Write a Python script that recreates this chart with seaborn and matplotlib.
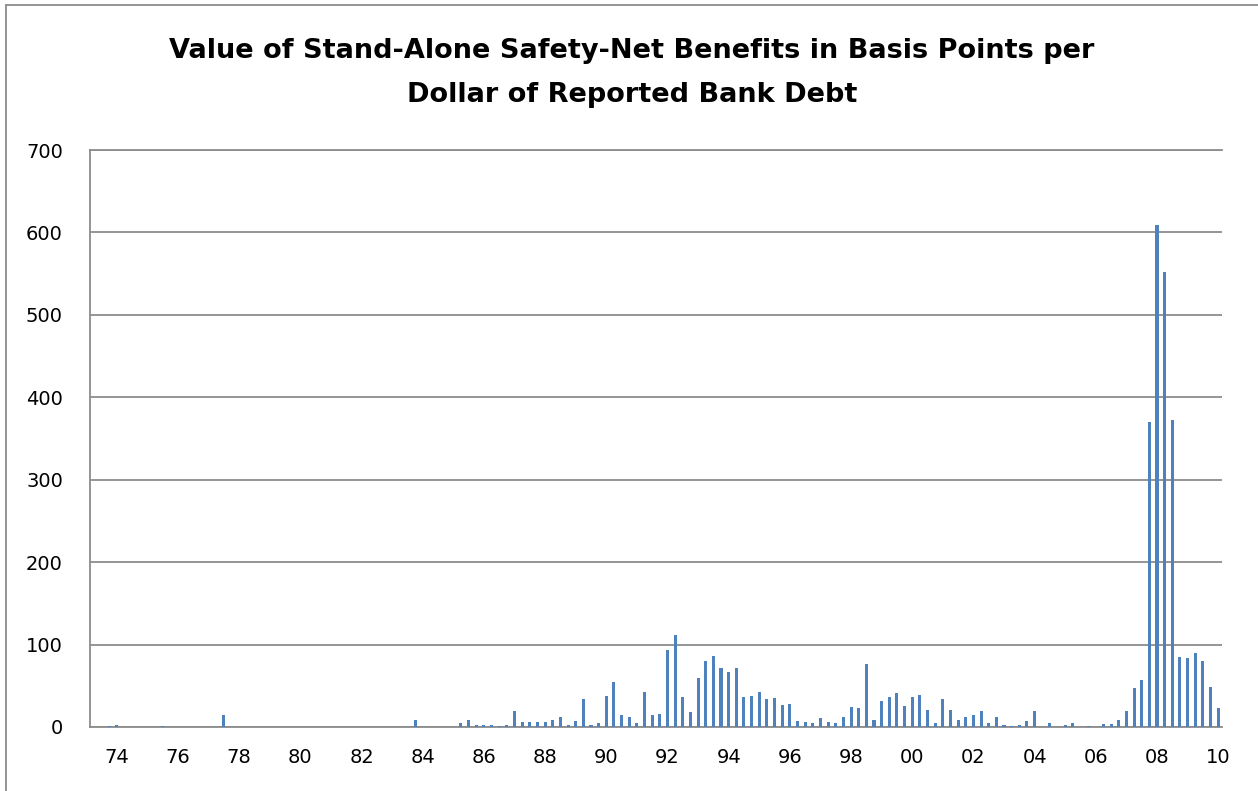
import matplotlib
matplotlib.use("Agg")
import matplotlib.pyplot as plt
from matplotlib.lines import Line2D
import pandas as pd
import seaborn as sns

# quarterly categories 1974Q1 .. 2010Q4
quarters = [f"{y}Q{q}" for y in range(1974, 2011) for q in range(1, 5)]

# basis points per dollar of reported bank debt
bp_1974_1985 = [0, 0, 1, 2.5, 0.5, 0, 0, 0, 0, 0.7, 0, 0,
                0, 0, 0, 0, 0, 14, 0, 0.3, 0, 0, 0, 0,
                0, 0, 0, 0.3, 0, 0, 0, 0, 0, 0, 0, 0,
                0, 0, 0, 0, 0, 0, 8, 0, 0, 0, 0, 0]
bp_1986_1997 = [5, 8, 2, 2, 3, 1, 2, 19, 6, 6, 6, 6,
                9, 12, 2, 7, 34, 3, 5, 38, 55, 15, 12, 5,
                42, 14, 16, 94, 112, 36, 18, 60, 80, 86, 72, 67,
                71, 36, 38, 43, 34, 35, 27, 28, 7, 6, 5, 11]
bp_1998_2010 = [6, 5, 12, 24, 23, 76, 9, 31, 36, 41, 26, 37,
                39, 21, 5, 34, 21, 9, 12, 14, 19, 5, 12, 2,
                1, 2, 7, 19, 0.5, 5, 0.3, 3, 5, 0, 1, 0,
                4, 4, 9, 19, 47, 57, 370, 609, 552, 372, 85, 84,
                90, 80, 48, 23]
values = bp_1974_1985 + bp_1986_1997 + bp_1998_2010

tick_labels = ["74", "76", "78", "80", "82", "84", "86", "88", "90", "92",
               "94", "96", "98", "00", "02", "04", "06", "08", "10"]
y_ticks = [0, 100, 200, 300, 400, 500, 600, 700]

df = pd.DataFrame({"quarter": quarters, "bp": values})

sns.set_style("white")
plt.rcParams["font.family"] = ["DejaVu Sans"]
plt.rcParams["text.color"] = "black"
plt.rcParams["xtick.color"] = "black"
plt.rcParams["ytick.color"] = "black"

fig = plt.figure(figsize=(12.58, 7.91), dpi=100)
ax = fig.add_axes([90 / 1258, 1 - 727 / 791, (1222 - 90) / 1258, (727 - 150) / 791])

grid_c = "#8c8c8c"
sns.barplot(data=df, x="quarter", y="bp", order=quarters, color="#4F81BD",
            saturation=1, width=0.4, ax=ax, zorder=3,
            edgecolor="none", linewidth=0, antialiased=False)

ax.set_ylim(0, 700)
ax.set_xlim(-0.5, len(quarters) - 0.5)
ax.set_yticks(y_ticks)
ax.set_yticklabels([str(t) for t in y_ticks], fontsize=14)
ax.set_xticks(range(3, len(quarters), 8))
ax.set_xticklabels(tick_labels, fontsize=14)
ax.tick_params(axis="both", length=0)
ax.tick_params(axis="y", pad=19.5)
ax.tick_params(axis="x", pad=15)
ax.set_xlabel("")
ax.set_ylabel("")

ax.yaxis.grid(True, color=grid_c, lw=1.3, zorder=0)
ax.set_axisbelow(True)
for side in ["left", "bottom", "top"]:
    ax.spines[side].set_color(grid_c)
    ax.spines[side].set_linewidth(1.3)
ax.spines["right"].set_visible(False)

fig.text(632 / 1258, 1 - 73 / 791,
         "Value of Stand-Alone Safety-Net Benefits in Basis Points per\nDollar of Reported Bank Debt",
         ha="center", va="center", fontsize=19.5, fontweight="bold", linespacing=1.85)

# outer chart frame (cut off at right and bottom in the reference)
fig.add_artist(Line2D([6 / 1258, 6 / 1258], [0, 1 - 5 / 791], color=grid_c, lw=1.3))
fig.add_artist(Line2D([6 / 1258, 1], [1 - 5 / 791, 1 - 5 / 791], color=grid_c, lw=1.3))

fig.savefig("out.png", dpi=100)
